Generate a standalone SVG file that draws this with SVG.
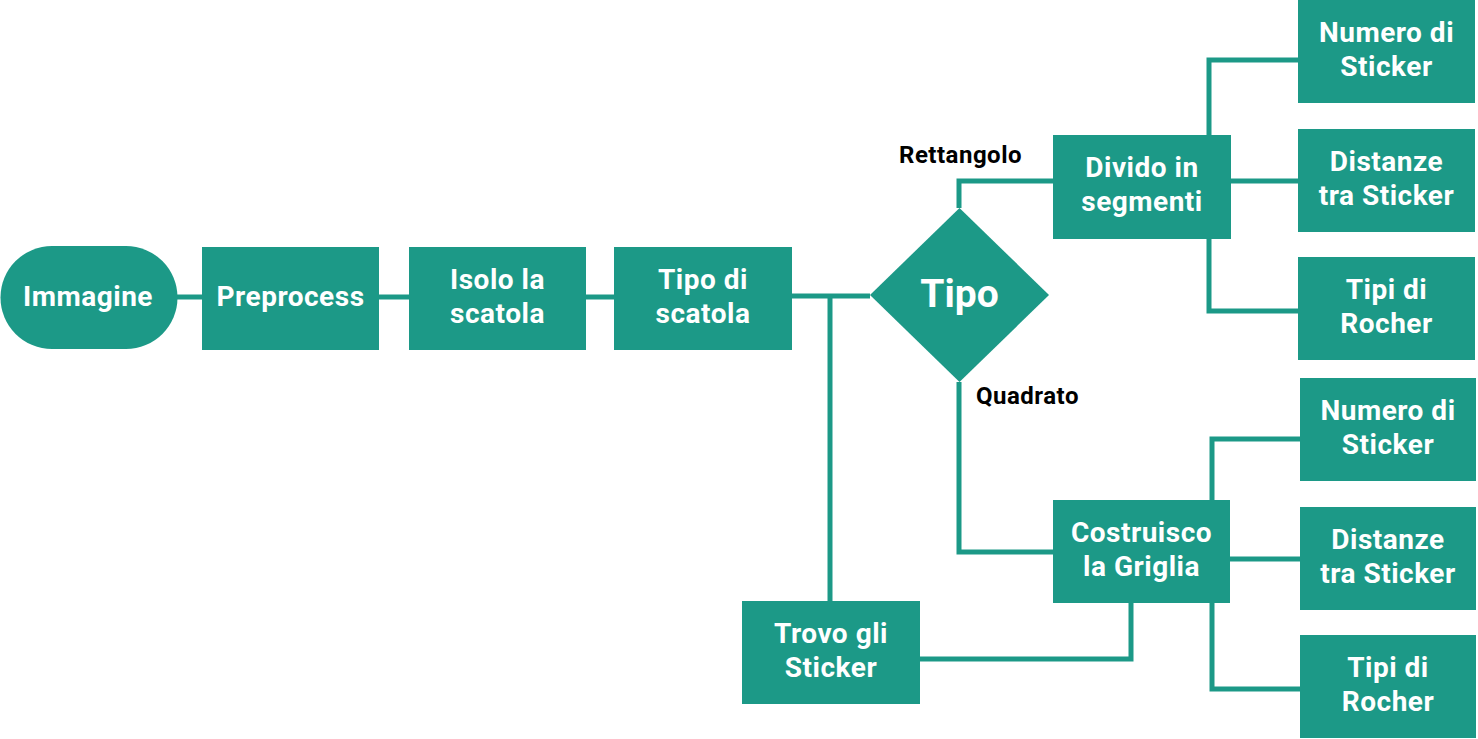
<svg xmlns="http://www.w3.org/2000/svg" width="1478" height="739" viewBox="0 0 1478 739">
<style>
.n{fill:#1c9987}
.t{fill:#fff;font-family:Roboto,"Liberation Sans",sans-serif;font-weight:700;font-size:28px;letter-spacing:0.5px;text-anchor:middle}
.big{font-size:39px;letter-spacing:0}
.lbl{fill:#000;font-family:Roboto,"Liberation Sans",sans-serif;font-weight:700;font-size:24px;letter-spacing:0.5px}
.c{fill:none;stroke:#1c9987;stroke-width:5}
</style>
<rect width="1478" height="739" fill="#fff"/>
<g id="connectors">
<path class="c" d="M177 297H202M379 297H409M586 297H614M792 296H870M830 296V601"/>
<path class="c" d="M959 208V181H1053M959 382V552H1053"/>
<path class="c" d="M1298 60H1209V311H1298M1231 181H1298"/>
<path class="c" d="M1300 439H1212V689H1300M1230 559H1300"/>
<path class="c" d="M920 659H1131V603"/>
</g>
<g id="immagine"><rect class="n" x="0.5" y="246" width="177" height="103" rx="51.5"/><text class="t" x="88" y="306">Immagine</text></g>
<g id="preprocess"><rect class="n" x="202" y="247" width="177" height="103"/><text class="t" x="290.5" y="306">Preprocess</text></g>
<g id="isolo"><rect class="n" x="409" y="247" width="177" height="103"/><text class="t"><tspan x="497.5" y="288.5">Isolo la</tspan><tspan x="497.5" y="322.5">scatola</tspan></text></g>
<g id="tipo-scatola"><rect class="n" x="614" y="247" width="178" height="103"/><text class="t"><tspan x="703" y="288.5">Tipo di</tspan><tspan x="703" y="322.5">scatola</tspan></text></g>
<g id="tipo"><polygon class="n" points="959.5,208 1049,295 959.5,382 870,295"/><text class="t big" x="959.5" y="307">Tipo</text></g>
<g id="label-rettangolo"><text class="lbl" x="899" y="163">Rettangolo</text></g>
<g id="label-quadrato"><text class="lbl" x="976" y="404">Quadrato</text></g>
<g id="divido"><rect class="n" x="1053" y="135" width="178" height="104"/><text class="t"><tspan x="1142" y="177">Divido in</tspan><tspan x="1142" y="211">segmenti</tspan></text></g>
<g id="numero1"><rect class="n" x="1298" y="0" width="177" height="103"/><text class="t"><tspan x="1386.5" y="42">Numero di</tspan><tspan x="1386.5" y="76">Sticker</tspan></text></g>
<g id="distanze1"><rect class="n" x="1298" y="129" width="177" height="103"/><text class="t"><tspan x="1386.5" y="171">Distanze</tspan><tspan x="1386.5" y="205">tra Sticker</tspan></text></g>
<g id="tipi1"><rect class="n" x="1298" y="257" width="177" height="103"/><text class="t"><tspan x="1386.5" y="299">Tipi di</tspan><tspan x="1386.5" y="333">Rocher</tspan></text></g>
<g id="costruisco"><rect class="n" x="1053" y="500" width="177" height="103"/><text class="t"><tspan x="1141.5" y="542">Costruisco</tspan><tspan x="1141.5" y="576">la Griglia</tspan></text></g>
<g id="numero2"><rect class="n" x="1300" y="378" width="176" height="103"/><text class="t"><tspan x="1388" y="420">Numero di</tspan><tspan x="1388" y="454">Sticker</tspan></text></g>
<g id="distanze2"><rect class="n" x="1300" y="507" width="176" height="103"/><text class="t"><tspan x="1388" y="549">Distanze</tspan><tspan x="1388" y="583">tra Sticker</tspan></text></g>
<g id="tipi2"><rect class="n" x="1300" y="635" width="176" height="103"/><text class="t"><tspan x="1388" y="677">Tipi di</tspan><tspan x="1388" y="711">Rocher</tspan></text></g>
<g id="trovo"><rect class="n" x="742" y="601" width="178" height="103"/><text class="t"><tspan x="831" y="643">Trovo gli</tspan><tspan x="831" y="677">Sticker</tspan></text></g>
</svg>
